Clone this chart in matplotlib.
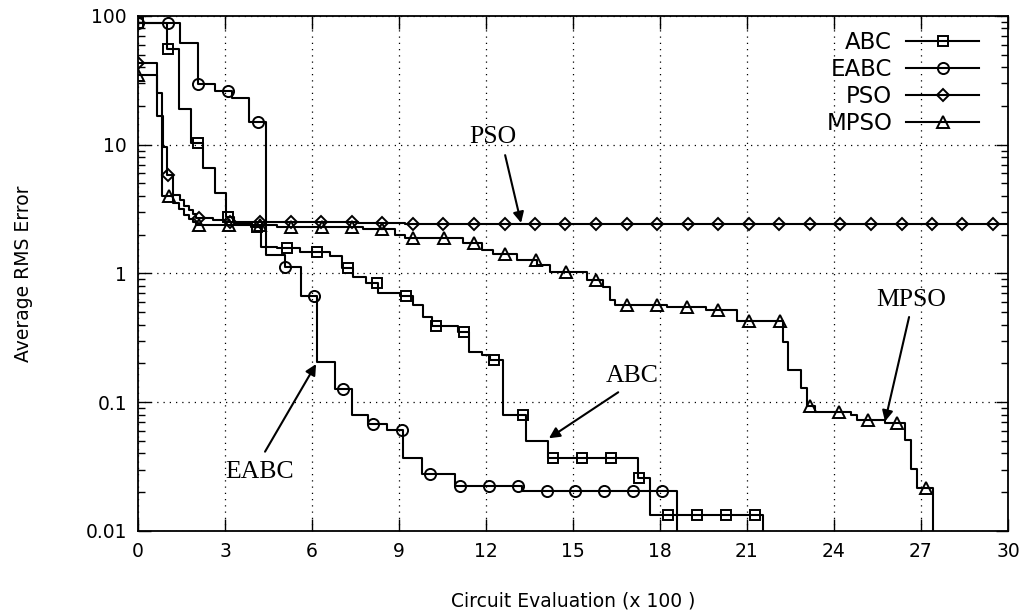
import numpy as np
import matplotlib.pyplot as plt
from matplotlib.lines import Line2D

# step curves: x = circuit evaluations (x 100), y = average RMS error
abc_x = [0, 1.0, 1.43, 1.83, 2.25, 2.65, 3.03, 3.3, 3.9, 4.23, 4.8, 5.59, 6.62, 7.02, 7.43,
         7.86, 8.29, 9.03, 9.49, 9.84, 10.13, 11.05, 11.43, 11.85, 12.14, 12.57, 13.38,
         14.15, 17.25, 17.66, 21.56]
abc_y = [88, 55, 18.9, 10.3, 6.6, 4.2, 2.76, 2.45, 2.31, 1.61, 1.57, 1.48, 1.37, 1.11, 0.944,
         0.84, 0.71, 0.67, 0.57, 0.46, 0.39, 0.353, 0.247, 0.233, 0.213, 0.079, 0.0503,
         0.0367, 0.0257, 0.0133, 0.001]
abc_mx = [0, 1.05, 2.06, 3.11, 4.09, 5.14, 6.18, 7.23, 8.23, 9.24, 10.28, 11.25, 12.29,
          13.29, 14.3, 15.3, 16.3, 17.29, 18.29, 19.29, 20.28, 21.28]
abc_my = [88, 55, 10.3, 2.76, 2.31, 1.57, 1.48, 1.11, 0.84, 0.67, 0.39, 0.353, 0.213,
          0.079, 0.0367, 0.0367, 0.0367, 0.0257, 0.0133, 0.0133, 0.0133, 0.0133]

eabc_x = [0, 1.45, 2.06, 2.66, 3.23, 3.84, 4.41, 5.07, 5.61, 6.16, 6.79, 7.37, 7.94, 8.57,
          9.15, 9.78, 10.93, 13.23, 18.6]
eabc_y = [88, 62, 29.5, 26.1, 23.2, 15.1, 1.39, 1.12, 0.673, 0.204, 0.126, 0.0796, 0.068,
          0.061, 0.0367, 0.0277, 0.0225, 0.0206, 0.001]
eabc_mx = [0, 1.05, 2.06, 3.1, 4.13, 5.07, 6.08, 7.08, 8.09, 9.09, 10.07, 11.1, 12.1, 13.1,
           14.09, 15.08, 16.07, 17.08, 18.08]
eabc_my = [88, 88, 29.5, 26.1, 15.1, 1.12, 0.673, 0.126, 0.068, 0.061, 0.0277, 0.0225,
           0.0225, 0.0225, 0.0206, 0.0206, 0.0206, 0.0206, 0.0206]

pso_x = [0, 0.64, 0.87, 1.01, 1.22, 1.45, 1.6, 1.75, 1.9, 2.0, 2.6, 3.0, 7.6, 9.2, 10.2, 30]
pso_y = [43.4, 16.7, 9.66, 5.82, 4.07, 3.7, 3.35, 3.1, 2.9, 2.68, 2.6, 2.53, 2.48, 2.43,
         2.41, 2.41]
pso_mx = [0, 1.05, 2.11, 3.16, 4.21, 5.27, 6.32, 7.37, 8.42, 9.48, 10.53, 11.58, 12.64,
          13.69, 14.74, 15.8, 16.85, 17.9, 18.95, 20.01, 21.06, 22.11, 23.17, 24.22, 25.27,
          26.33, 27.38, 28.43, 29.48]
pso_my = [43.4, 5.82, 2.68, 2.53, 2.53, 2.53, 2.53, 2.53, 2.48, 2.43, 2.41, 2.41, 2.41,
          2.41, 2.41, 2.41, 2.41, 2.41, 2.41, 2.41, 2.41, 2.41, 2.41, 2.41, 2.41, 2.41,
          2.41, 2.41, 2.41]

mpso_x = [0, 0.64, 0.82, 1.22, 1.43, 1.6, 1.75, 1.9, 2.0, 4.8, 7.0, 7.77, 8.86, 9.2, 11.22,
          11.85, 12.25, 13.06, 13.75, 14.2, 15.47, 16.05, 16.28, 16.45, 18.23, 19.6, 20.64,
          22.25, 22.43, 22.85, 23.06, 23.35, 24.6, 24.78, 25.76, 26.45, 26.64, 26.85, 27.42]
mpso_y = [34.8, 25.4, 4.0, 3.51, 3.15, 2.85, 2.65, 2.5, 2.38, 2.31, 2.29, 2.2, 2.0, 1.87,
          1.717, 1.52, 1.417, 1.27, 1.16, 1.03, 0.89, 0.78, 0.623, 0.57, 0.552, 0.52, 0.428,
          0.295, 0.178, 0.128, 0.094, 0.0845, 0.0796, 0.0727, 0.069, 0.0508, 0.0303, 0.0215,
          0.001]
mpso_mx = [0, 1.07, 2.11, 3.15, 4.2, 5.29, 6.33, 7.37, 8.4, 9.49, 10.55, 11.6, 12.66, 13.71,
           14.76, 15.81, 16.85, 17.9, 18.94, 20.01, 21.08, 22.14, 23.18, 24.18, 25.18, 26.17,
           27.18]
mpso_my = [34.8, 4.0, 2.38, 2.38, 2.38, 2.31, 2.31, 2.29, 2.2, 1.87, 1.87, 1.717, 1.417,
           1.27, 1.03, 0.89, 0.57, 0.57, 0.552, 0.52, 0.428, 0.428, 0.094, 0.0845, 0.0727,
           0.069, 0.0215]

labels = ['ABC', 'EABC', 'PSO', 'MPSO']
markers = ['s', 'o', 'D', '^']
x_ticks = [0, 3, 6, 9, 12, 15, 18, 21, 24, 27, 30]
y_ticks = [0.01, 0.1, 1, 10, 100]
y_tick_labels = ['0.01', '0.1', '1', '10', '100']

# annotation label, text position, arrow tail, arrow head (data coords)
notes = [
    ('PSO', (12.24, 11.5), (12.66, 8.3), (13.21, 2.47)),
    ('ABC', (17.03, 0.16), (16.56, 0.1195), (14.17, 0.0525)),
    ('EABC', (4.19, 0.0285), (4.38, 0.0413), (6.14, 0.198)),
    ('MPSO', (26.66, 0.622), (26.59, 0.459), (25.76, 0.0709)),
]

fig = plt.figure(figsize=(10.3, 6.14), dpi=100)
ax = fig.add_axes([0.134, 0.1352, 0.8446, 0.8388])

series = [(abc_x, abc_y, abc_mx, abc_my), (eabc_x, eabc_y, eabc_mx, eabc_my),
          (pso_x, pso_y, pso_mx, pso_my), (mpso_x, mpso_y, mpso_mx, mpso_my)]
msizes = {'s': 7.5, 'o': 8, 'D': 6, '^': 8}
handles = []
for (x, y, mx, my), lab, mk in zip(series, labels, markers):
    ax.plot(x, y, drawstyle='steps-post', color='black', lw=1.5, zorder=3)
    ax.plot(mx, my, ls='none', marker=mk, ms=msizes[mk], mfc='none', mec='black',
            mew=1.4, zorder=4)
    handles.append(Line2D([], [], color='black', lw=1.5, marker=mk, ms=msizes[mk],
                          mfc='none', mec='black', mew=1.4, label=lab))

ax.set_yscale('log')
ax.set_xlim(0, 30)
ax.set_ylim(0.01, 100)
ax.set_xticks(x_ticks)
ax.set_xticklabels([str(t) for t in x_ticks])
ax.set_yticks(y_ticks)
ax.set_yticklabels(y_tick_labels)
ax.tick_params(which='both', direction='in', top=True, right=True, labelsize=13.5,
               width=1, color='black', pad=8)
ax.tick_params(which='major', length=9)
ax.tick_params(which='minor', length=5)
ax.grid(True, which='major', color='black', linestyle=(0, (1, 4)), linewidth=0.9)
for s in ax.spines.values():
    s.set_linewidth(1.3)

ax.set_xlabel('Circuit Evaluation (x 100 )', fontsize=13.5, labelpad=22)
ax.set_ylabel('Average RMS Error', fontsize=13.5, labelpad=38)

leg = ax.legend(handles=handles, loc='upper right', bbox_to_anchor=(0.967, 0.97),
                frameon=False, markerfirst=False, fontsize=16.5, handlelength=3.2,
                handletextpad=0.6, labelspacing=0.17, borderaxespad=0, borderpad=0,
                numpoints=1)

for txt, tpos, tail, head in notes:
    ax.annotate('', xy=head, xytext=tail,
                arrowprops=dict(arrowstyle='-|>', color='black', lw=1.5,
                                mutation_scale=16, shrinkA=0, shrinkB=0), zorder=5)
    ax.text(tpos[0], tpos[1], txt, ha='center', va='center', fontsize=18.5,
            family='Liberation Serif', zorder=5)

fig.savefig('out.png', dpi=100)
